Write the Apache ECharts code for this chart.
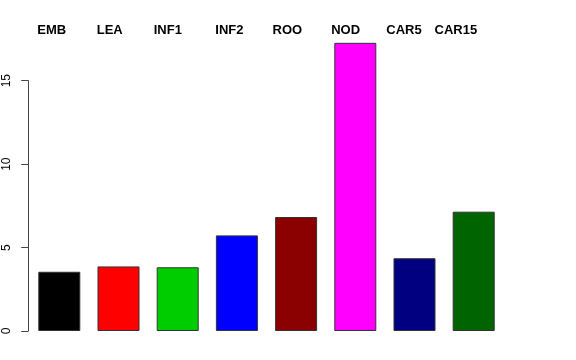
<!DOCTYPE html>
<html>
<head>
<meta charset="utf-8">
<script src="https://cdn.jsdelivr.net/npm/echarts@6/dist/echarts.min.js"></script>
<style>
html,body{margin:0;padding:0;background:#fff;}
#chart{width:576px;height:360px;}
</style>
</head>
<body>
<div id="chart"></div>
<script>
var categories = ['EMB', 'LEA', 'INF1', 'INF2', 'ROO', 'NOD', 'CAR5', 'CAR15'];
var values = [3.55, 3.87, 3.82, 5.73, 6.83, 17.27, 4.36, 7.15];
var barColors = ['#000000', '#FF0000', '#00CD00', '#0000FF', '#8B0000', '#FF00FF', '#000080', '#006400'];
var yTicks = [0, 5, 10, 15];

// layout-only: horizontal shift of each top label (px, negative = left)
var labelShift = [-7.6, -8.8, -9.9, -7.5, -8.8, -9.7, -10.5, -17.9];

var chart = echarts.init(document.getElementById('chart'), null, {renderer: 'canvas'});
var catData = categories.map(function (c, i) {
  var p = Math.max(0, -2 * labelShift[i]);
  return {value: c, textStyle: {padding: [0, p, 0, 0]}};
});
var option = {
  animation: false,
  backgroundColor: '#ffffff',
  grid: {left: 29.7, right: 72.7, top: 80.7, bottom: 29},
  xAxis: {
    type: 'category',
    position: 'top',
    data: catData,
    axisLine: {show: false},
    axisTick: {show: false},
    axisLabel: {
      interval: 0,
      margin: 44,
      color: '#000',
      fontWeight: 'bold',
      fontSize: 13,
      fontFamily: 'Liberation Sans, Arial, sans-serif'
    },
    splitLine: {show: false}
  },
  yAxis: {
    type: 'value',
    min: yTicks[0],
    max: yTicks[yTicks.length - 1],
    interval: yTicks[1] - yTicks[0],
    offset: 1.5,
    axisLine: {show: true, lineStyle: {color: '#444', width: 1}},
    axisTick: {show: true, length: 7, lineStyle: {color: '#444', width: 1}},
    axisLabel: {
      rotate: 90,
      margin: 16,
      color: '#000',
      fontSize: 12,
      fontFamily: 'Liberation Sans, Arial, sans-serif'
    },
    splitLine: {show: false}
  },
  series: [{
    type: 'bar',
    clip: false,
    barWidth: 42,
    data: values.map(function (v, i) {
      return {value: v, itemStyle: {color: barColors[i]}};
    }),
    itemStyle: {borderColor: '#333', borderWidth: 1}
  }]
};
chart.setOption(option);
</script>
</body>
</html>
